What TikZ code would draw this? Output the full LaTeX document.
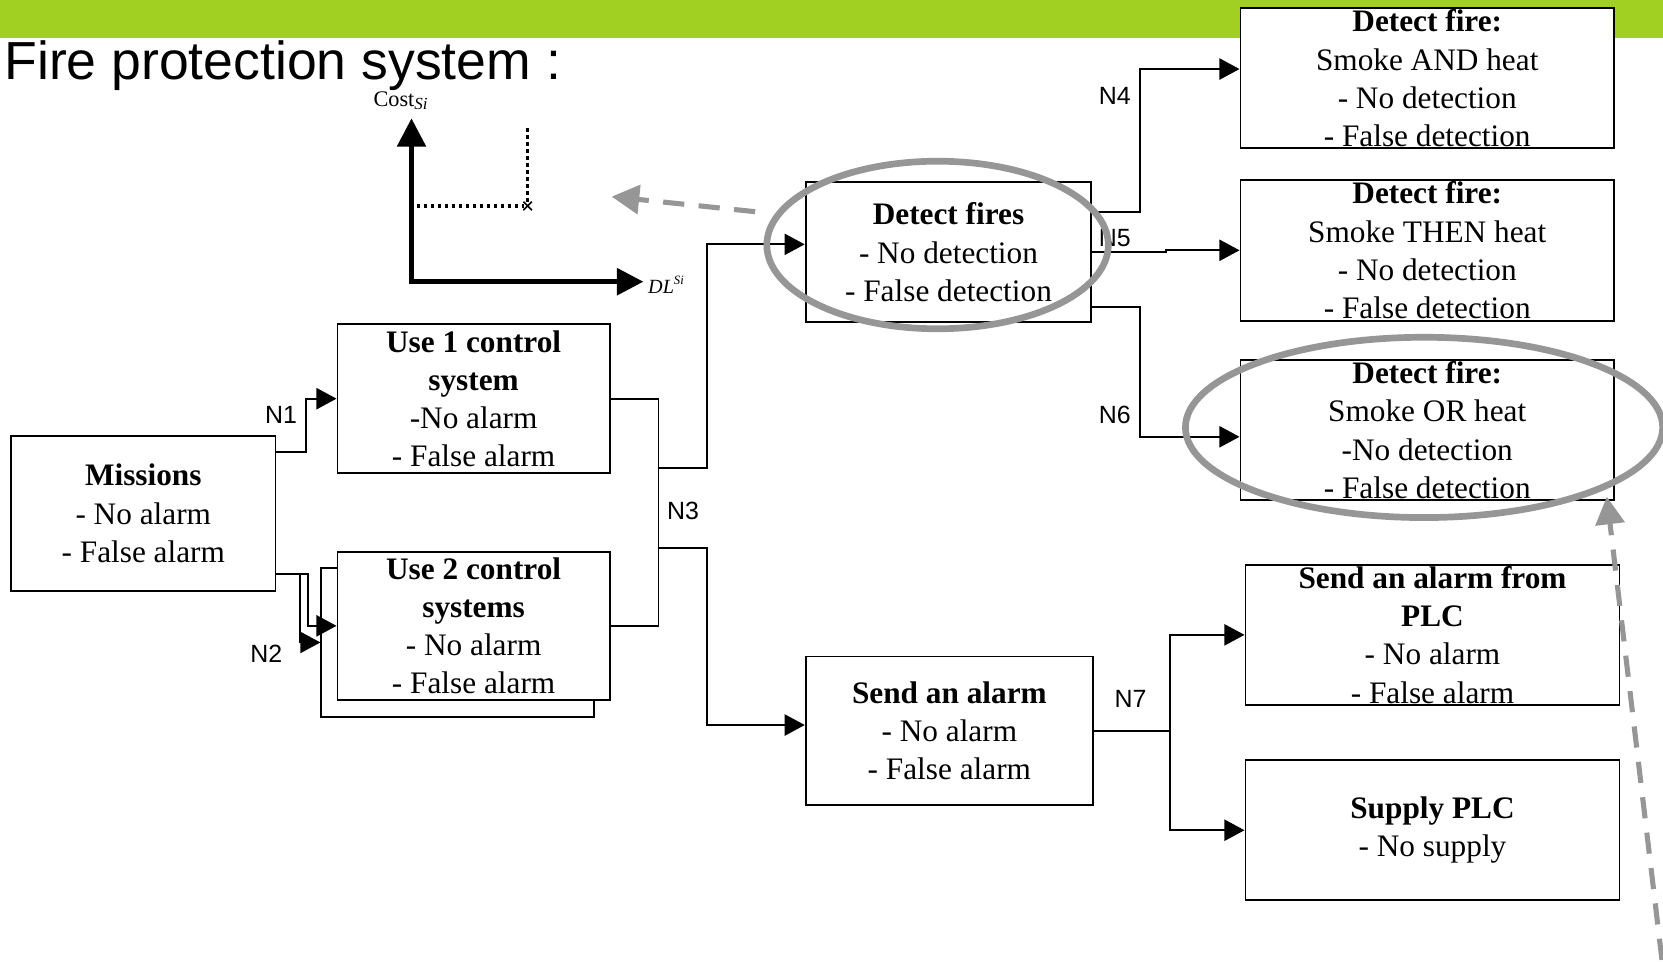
\documentclass[tikz,border=0pt]{standalone}
\usepackage{fontspec}
\setmainfont{Liberation Serif}
\newfontfamily\sansf{Liberation Sans}
\usetikzlibrary{arrows.meta,shapes.geometric}
\definecolor{barGreen}{RGB}{161,208,35}
\definecolor{markGray}{RGB}{150,150,150}
\newcommand\boxfont{\fontsize{29.5}{36}\selectfont}
\begin{document}
\begin{tikzpicture}[x=1pt,y=-1pt,
  box/.style={draw, line width=1.8pt, fill=white, rectangle, inner sep=0pt, align=center, font=\boxfont},
  conn/.style={line width=1.8pt},
  arr/.style={-{Triangle[length=19pt,width=20pt]}},
  nlabel/.style={font=\sansf\fontsize{23.5}{23.5}\selectfont, inner sep=0pt},
  ring/.style={ellipse, draw=markGray, line width=6.3pt, inner sep=0pt},
  pointer/.style={draw=markGray, line width=4.8pt, dash pattern=on 20pt off 13.6pt,
    -{Triangle[length=26pt,width=27pt,fill=markGray]}},
  dotline/.style={line width=3pt, dash pattern=on 3pt off 3.6pt},
]
\useasboundingbox (0,0) rectangle (1568,907);

% header band and heading
\fill[barGreen] (0,0) rectangle (1568,35.5);
\node[anchor=base west, inner sep=0pt, font=\sansf\fontsize{50.5}{50.5}\selectfont] (title) at (4,75.4) {Fire protection system :};

% cost / delay sketch
\coordinate (yTop) at (388,111.6);
\coordinate (origin) at (388,265.6);
\coordinate (xEnd) at (606.6,265.6);
\draw[line width=4.4pt, line join=miter,
  {Triangle[length=26.7pt,width=26.7pt]}-{Triangle[length=25pt,width=25pt]}]
  (yTop) -- (origin) -- (xEnd);
\node[anchor=base west, inner sep=0pt, font=\fontsize{21}{21}\selectfont] (costlbl) at (352,100.6)
  {Cost\raisebox{-3pt}{\fontsize{16}{16}\selectfont\itshape Si}};
\node[anchor=base west, inner sep=0pt, font=\fontsize{19}{19}\selectfont\itshape] (dllbl) at (611,276.6)
  {DL\raisebox{8pt}{\fontsize{12}{12}\selectfont Si}};
\coordinate (pt) at (497.5,194.2);
\draw[dotline] (497.5,121) -- (497.5,190);
\draw[dotline] (392.9,194.2) -- (494,194.2);
\draw[line width=1.5pt] ([shift={(-4,-4)}]pt) -- ([shift={(4,4)}]pt)
                        ([shift={(-4,4)}]pt) -- ([shift={(4,-4)}]pt);

% boxes
\node[box, minimum width=249.4pt, minimum height=146.2pt] (missions) at (135.1,484.1)
  {\textbf{Missions}\\- No alarm\\- False alarm};
\node[box, minimum width=256.7pt, minimum height=140.8pt] (use1) at (446.55,375.9)
  {\textbf{Use 1 control}\\\textbf{system}\\-No alarm\\- False alarm};
\node[box, minimum width=256.8pt, minimum height=139.9pt] (use2b) at (431.4,605.75) {};
\node[box, minimum width=256.7pt, minimum height=139.8pt] (use2) at (446.55,590.1)
  {\textbf{Use 2 control}\\\textbf{systems}\\- No alarm\\- False alarm};
\node[box, minimum width=269.4pt, minimum height=132pt] (detect) at (894.3,237.9)
  {\textbf{Detect fires}\\- No detection\\- False detection};
\node[box, minimum width=352.2pt, minimum height=132pt] (boxA) at (1345.7,73.9)
  {\textbf{Detect fire:}\\Smoke AND heat\\- No detection\\- False detection};
\node[box, minimum width=352.2pt, minimum height=132.6pt] (boxB) at (1345.7,236)
  {\textbf{Detect fire:}\\Smoke THEN heat\\- No detection\\- False detection};
\node[box, minimum width=352.2pt, minimum height=131.9pt] (boxC) at (1345.7,405.55)
  {\textbf{Detect fire:}\\Smoke OR heat\\-No detection\\- False detection};
\node[box, minimum width=270.9pt, minimum height=139.8pt] (alarm) at (895.15,688.9)
  {\textbf{Send an alarm}\\- No alarm\\- False alarm};
\node[box, minimum width=352.7pt, minimum height=131.8pt] (plc) at (1350.65,598.6)
  {\textbf{Send an alarm from}\\\textbf{PLC}\\- No alarm\\- False alarm};
\node[box, minimum width=352.7pt, minimum height=132.2pt] (supply) at (1350.65,782.8)
  {\textbf{Supply PLC}\\- No supply};

% connectors
\draw[conn, arr] ([yshift=58.2pt]missions.east) -- ++(28.1,0) |- (use1.west);
\draw[conn, arr] ([yshift=-57.1pt]missions.east) -- ++(22.5,0) |- (use2b.west);
\draw[conn, arr] ([yshift=-57.1pt]missions.east) -- ++(29.4,0) |- (use2.west);
\draw[conn] (use1.east) -- ++(45.1,0) |- (use2.east);
\coordinate (n3top) at (620,441.5);
\coordinate (n3bot) at (620,517);
\draw[conn, arr] (n3top) -- ++(46.6,0) |- ([yshift=7.5pt]detect.west);
\draw[conn, arr] (n3bot) -- ++(46.6,0) |- ([yshift=5.3pt]alarm.west);
\draw[conn, arr] ([yshift=38.3pt]detect.east) -- ++(45,0) |- ([yshift=8.8pt]boxA.west);
\draw[conn, arr] (detect.east) -- ++(69.5,0) |- (boxB.west);
\draw[conn, arr] ([yshift=-51.9pt]detect.east) -- ++(45,0) |- ([yshift=-6.3pt]boxC.west);
\draw[conn] (alarm.east) -- ++(71.4,0) coordinate (n7);
\draw[conn, arr] (n7) |- (plc.west);
\draw[conn, arr] (n7) |- (supply.west);

% connector labels
\node[nlabel] (lN1) at (265,391) {N1};
\node[nlabel] (lN2) at (251,616.5) {N2};
\node[nlabel] (lN3) at (644,481.5) {N3};
\node[nlabel] (lN4) at (1051,90.5) {N4};
\node[nlabel] (lN5) at (1051,224.7) {N5};
\node[nlabel] (lN6) at (1051,391) {N6};
\node[nlabel] (lN7) at (1066,659) {N7};

% highlight rings and pointers
\node[ring, minimum width=322pt, minimum height=158pt] (ring1) at (884,231) {};
\node[ring, minimum width=450pt, minimum height=170pt] (ring2) at (1342.7,403) {};
\coordinate (p1s) at (712,199.6);
\coordinate (p1e) at (576.7,185.4);
\draw[pointer] (p1s) -- (p1e);
\coordinate (p2s) at (1567,905);
\coordinate (p2e) at (1515,468.3);
\draw[pointer] (p2s) -- (p2e);
\end{tikzpicture}
\end{document}
